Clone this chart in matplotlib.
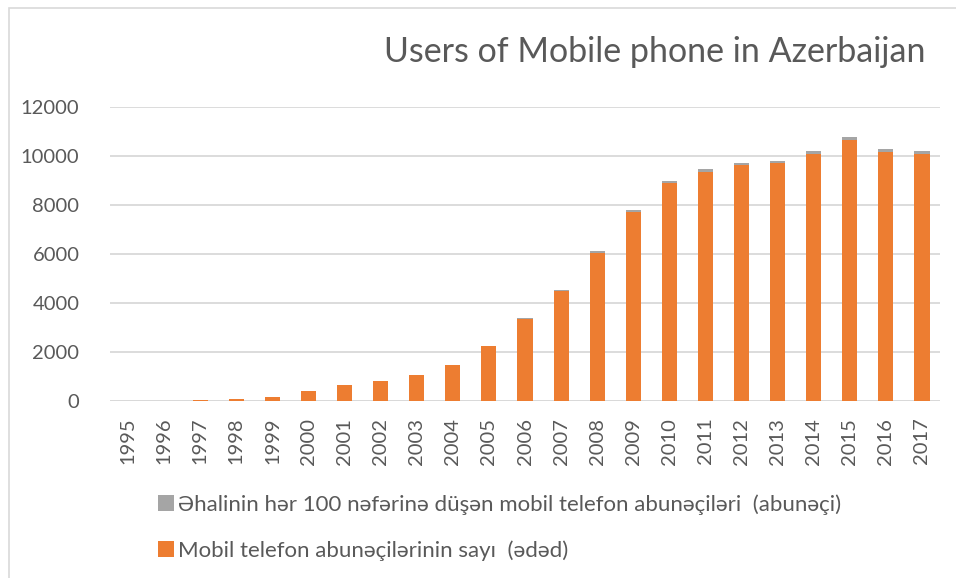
import matplotlib
matplotlib.use('Agg')
import matplotlib.pyplot as plt
from matplotlib.patches import Rectangle

plt.rcParams['font.family'] = ['Lato', 'DejaVu Sans']

years = [str(y) for y in range(1995, 2018)]
# mobile subscribers (thousands)
subscribers = [6, 17, 40, 65, 150, 420, 650, 800, 1050, 1450, 2230, 3330, 4490,
               6040, 7720, 8900, 9360, 9620, 9700, 10090, 10660, 10170, 10090]
# subscribers per 100 inhabitants
per_100 = [0.1, 0.2, 0.5, 0.8, 1.9, 5.2, 8.0, 10.0, 13.0, 17.8, 26.5, 39.0, 52.0,
           70.0, 87.0, 99.4, 108.7, 107.7, 107.6, 110.9, 111.3, 106.1, 104.8]

label_orange = 'Mobil telefon abunəçilərinin sayı  (ədəd)'
label_gray = 'Əhalinin hər 100 nəfərinə düşən mobil telefon abunəçiləri  (abunəçi)'
title = 'Users of Mobile phone in Azerbaijan'

orange = '#ED7D31'
gray = '#A5A5A5'
txt = '#595959'
grid = '#D9D9D9'

W, H = 956, 578
fig = plt.figure(figsize=(W / 100, H / 100), dpi=100)
ax = fig.add_axes([110 / W, (H - 401) / H, 830 / W, 294 / H])

x = range(len(years))
b1 = ax.bar(x, subscribers, width=0.42, color=orange, label=label_orange, zorder=3)
b2 = ax.bar(x, per_100, bottom=subscribers, width=0.42, color=gray,
            label=label_gray, zorder=3)

ax.set_xlim(-0.5, len(years) - 0.5)
ax.set_ylim(0, 12000)
ax.set_yticks(range(0, 12001, 2000))
ax.yaxis.grid(True, color=grid, linewidth=1.3, zorder=0)
ax.set_xticks(list(x))
ax.set_xticklabels(years, rotation=90)
ax.tick_params(axis='both', length=0, labelsize=14.5, colors=txt)
ax.tick_params(axis='y', pad=22)
ax.tick_params(axis='x', pad=12)
for s in ax.spines.values():
    s.set_visible(False)
ax.axhline(0, color=grid, linewidth=1.3, zorder=1)

fig.text(925 / W, 1 - 52 / H, title, ha='right', va='center',
         fontsize=24.5, color=txt)

# outer chart border (left and top only visible)
fig.add_artist(Rectangle((9 / W, -0.1), 1.1, 1 - 8 / H + 0.1, transform=fig.transFigure,
                         fill=False, edgecolor='#D9D9D9', linewidth=1.2))

fig.legend([b2, b1], [label_gray, label_orange], loc='upper left',
           bbox_to_anchor=(138 / W, 1 - 474 / H), frameon=False,
           fontsize=16, labelcolor=txt, handlelength=0.7, handleheight=0.7,
           handletextpad=0.2, labelspacing=1.15)

fig.savefig('out.png', dpi=100, facecolor='white')
